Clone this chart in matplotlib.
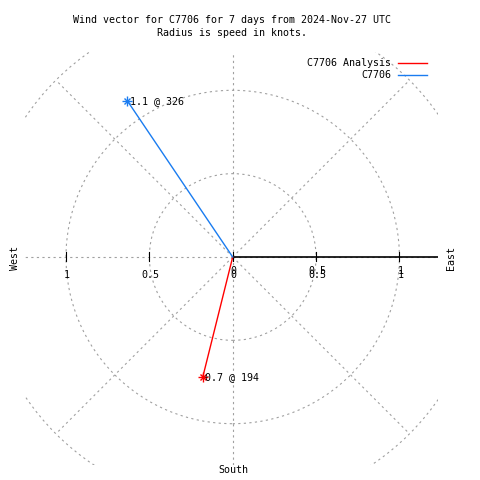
import numpy as np
import matplotlib
matplotlib.use('Agg')
import matplotlib.pyplot as plt
from matplotlib.patches import Circle

# wind data (speed in knots, direction in degrees from north)
series = ['C7706 Analysis', 'C7706']
colors = ['#ff0000', '#1a7cf0']
speed = [0.74, 1.13]
direction = [194, 326]

grid_r = [0.5, 1.0, 1.5]
grid_ang = [0, 45, 90, 135, 180, 225, 270, 315]
tick_r = [-1, -0.5, 0, 0.5, 1]
tick_lab = ['1', '0.5', '0', '0.5', '1']

W = H = 480
U = 166.7          # pixels per knot
cx, cy = 232.7, 257.0
x0, x1 = -1.245, 1.23
y0, y1 = -1.245, 1.23

plt.rcParams['font.family'] = ['DejaVu Sans Mono']
fs = 7.2

fig = plt.figure(figsize=(4.8, 4.8), dpi=100)
left = (cx + x0 * U) / W
bottom = (H - (cy - y0 * U)) / H
ax = fig.add_axes([left, bottom, (x1 - x0) * U / W, (y1 - y0) * U / H])
ax.set_xlim(x0, x1)
ax.set_ylim(y0, y1)
ax.axis('off')

def px(x, y):
    return x / W, 1 - y / H

gcol = '#a0a0a0'
dash = (0, (2, 3))
for r in grid_r:
    ax.add_patch(Circle((0, 0), r, fill=False, ec=gcol, lw=0.8, ls=dash))
for a in grid_ang:
    t = np.radians(a)
    ax.plot([0, 1.5 * np.cos(t)], [0, 1.5 * np.sin(t)], color=gcol, lw=0.8, ls=dash)

# radial axis
ax.plot([0, x1], [0, 0], color='black', lw=1.2, solid_capstyle='butt')
for r in tick_r:
    ax.plot([r, r], [-0.025, 0.03], color='black', lw=0.8)

# tick labels (drawn twice on the right, like the original overstrike)
for r, lab in zip(tick_r, tick_lab):
    xp = cx + r * U + 1
    fig.text(*px(xp, 275), lab, fontsize=fs, ha='center', va='center')
    if r >= 0:
        fig.text(*px(xp, 271), lab, fontsize=fs, ha='center', va='center')

# wind vectors
for name, c, s, d in zip(series, colors, speed, direction):
    t = np.radians(d)
    xs, ys = s * np.sin(t), s * np.cos(t)
    ax.plot([0, xs], [0, ys], color=c, lw=1.0)
    ax.plot(xs, ys, marker='+', color=c, ms=7, mew=1.0)
    ax.plot(xs, ys, marker='x', color=c, ms=5, mew=1.0)
    ax.text(xs + 0.015, ys, '%.1f @ %d' % (s, d), fontsize=fs, ha='left', va='center')

# legend
for i, (name, c) in enumerate(zip(series, colors)):
    yy = 63 + 12 * i
    fig.text(*px(391, yy), name, fontsize=fs, ha='right', va='center')
    fig.add_artist(plt.Line2D([398 / W, 427 / W], [1 - yy / H, 1 - yy / H], color=c, lw=1.0))

fig.text(*px(232, 20), 'Wind vector for C7706 for 7 days from 2024-Nov-27 UTC', fontsize=fs, ha='center', va='center')
fig.text(*px(232, 33), 'Radius is speed in knots.', fontsize=fs, ha='center', va='center')
fig.text(*px(15, 258), 'West', fontsize=fs, ha='center', va='center', rotation=90)
fig.text(*px(451, 258), 'East', fontsize=fs, ha='center', va='center', rotation=90)
fig.text(*px(233, 470), 'South', fontsize=fs, ha='center', va='center')

fig.savefig('out.png', dpi=100)
